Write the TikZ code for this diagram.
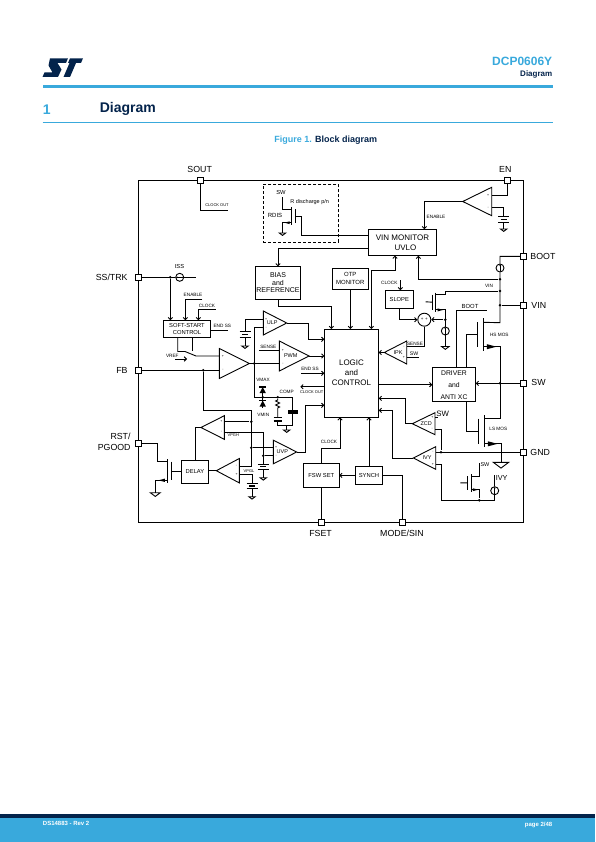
\documentclass[tikz,border=0pt]{standalone}
\usepackage{fontspec}
\setmainfont{Liberation Sans}
\usetikzlibrary{arrows.meta}

\definecolor{stblue}{HTML}{39A9DC}
\definecolor{stnavy}{HTML}{03234B}

\tikzset{
  pin/.style={draw,fill=white,minimum size=6pt,inner sep=0pt,outer sep=0pt},
  block/.style={draw,inner sep=0pt,outer sep=0pt,align=center},
  joint/.style={circle,fill,inner sep=0pt,minimum size=2.8pt},
  pinlabel/.style={font=\fontsize{8.8}{10.5}\selectfont,inner sep=0pt,align=right},
  tag/.style={font=\fontsize{4.7}{5.5}\selectfont,inner sep=0pt},
  amptext/.style={font=\fontsize{5.5}{6}\selectfont,inner sep=0pt},
  ampsign/.style={font=\fontsize{3.5}{4}\selectfont,inner sep=0pt},
  srcv/.style={circle,draw,inner sep=0pt,minimum size=8pt,path picture={
    \draw[line width=.5pt,-{Stealth[length=2pt]}] (path picture bounding box.south) -- (path picture bounding box.north);}},
  srch/.style={circle,draw,inner sep=0pt,minimum size=8pt,path picture={
    \draw[line width=.5pt,-{Stealth[length=2pt]}] (path picture bounding box.east) -- (path picture bounding box.west);}},
}

% name, tip x, tip y, base x, half height, text, y of +, y of -
\newcommand{\opamp}[8]{%
  \coordinate (#1) at (#2,#3);
  \coordinate (#1p) at (#4,#7);
  \coordinate (#1n) at (#4,#8);
  \draw (#2,#3) -- (#4,#3-#5) -- (#4,#3+#5) -- cycle;
  \node[ampsign] (#1ps) at ({#4*.88+#2*.12},#7) {+};
  \node[ampsign] (#1ns) at ({#4*.88+#2*.12},#8) {-};
  \node[amptext] (#1t) at ({#4*.615+#2*.385},#3) {#6};
}
% name, channel x, top, bottom, signed gate gap, inset
\newcommand{\mos}[6]{%
  \coordinate (#1d) at (#2,#3+#6);
  \coordinate (#1s) at (#2,#4-#6);
  \coordinate (#1g) at (#2+#5,{(#3+#4)/2});
  \draw (#2,#3) -- (#2,#4);
  \draw (#2+#5,#3+#6) -- (#2+#5,#4-#6);
  \fill (#2-#5*.6,#4-#6-#5*.42) -- (#2-#5*.6,#4-#6+#5*.42) -- (#2-#5*2.2,#4-#6) -- cycle;
}
\newcommand{\gndsym}[3]{%
  \draw (#1-#3,#2) -- (#1+#3,#2) -- (#1,#2+#3*.75) -- cycle;
}
% name, x, y of the first plate, y of the ground
\newcommand{\batt}[4]{%
  \coordinate (#1) at (#2,#3);
  \draw (#2-5.5,#3) -- (#2+5.5,#3);
  \draw[line width=1.3pt] (#2-3,#3+2.7) -- (#2+3,#3+2.7);
  \draw (#2-5.5,#3+5.4) -- (#2+5.5,#3+5.4);
  \draw (#2,#3+5.4) -- (#2,#4);
  \gndsym{#2}{#4}{3.2}
}
\newcommand{\zener}[2]{%
  \fill (#1-3.2,#2+3.2) -- (#1+3.2,#2+3.2) -- (#1,#2-3) -- cycle;
  \draw[line width=1.2pt] (#1-3.4,#2-3) -- (#1+3.4,#2-3);
}

\begin{document}
\begin{tikzpicture}[x=1pt,y=-1pt,line width=.9pt,>={Straight Barb[length=2.2pt,width=4.4pt]}]
  \useasboundingbox (0,0) rectangle (595,842);

  % page furniture
  \fill[stnavy] (50,58.3) -- (68,58.3) -- (66,63) -- (57.5,63) -- (61.5,69.5) -- (58,77) -- (42.5,77) -- (44.5,72.5) -- (52.5,72.5) -- (48.5,65.5) -- cycle;
  \fill[stnavy] (70,58.3) -- (83,58.3) -- (81,63) -- (76,63) -- (70,77) -- (63.5,77) -- (69.5,63) -- (68,63) -- cycle;
  \node[anchor=east,inner sep=0pt,text=stblue,font=\bfseries\fontsize{12}{14}\selectfont] (partno) at (552.7,61.7) {DCP0606Y};
  \node[anchor=east,inner sep=0pt,text=stnavy,font=\bfseries\fontsize{8}{10}\selectfont] (headsec) at (552.7,74) {Diagram};
  \fill[stblue] (42.5,85.3) rectangle (552.7,88.2);
  \node[anchor=west,inner sep=0pt,text=stblue,font=\bfseries\fontsize{14}{16}\selectfont] (secno) at (42.5,109.3) {1};
  \node[anchor=west,inner sep=0pt,text=stnavy,font=\bfseries\fontsize{14}{16}\selectfont] (secname) at (99.4,109.3) {Diagram};
  \draw[stblue,line width=.8pt] (42.5,122.3) -- (552.7,122.3);
  \node[inner sep=0pt,font=\bfseries\fontsize{9}{11}\selectfont] (figcap) at (325.7,140) {\textcolor{stblue}{Figure 1.} \textcolor{stnavy}{Block diagram}};
  \fill[stnavy] (0,814) rectangle (595,818);
  \fill[stblue] (0,818) rectangle (595,842);
  \node[anchor=west,inner sep=0pt,text=white,font=\bfseries\fontsize{6}{7}\selectfont] (docno) at (42.5,823.7) {DS14883 - Rev 2};
  \node[anchor=east,inner sep=0pt,text=white,font=\bfseries\fontsize{6}{7}\selectfont] (pageno) at (552.7,824.7) {page 2/48};

  % frame and pins
  \node[draw,minimum width=385pt,minimum height=342pt,inner sep=0pt,outer sep=0pt] (frame) at (330.8,351.3) {};
  \node[pin] (sout) at (200.3,180.3) {};
  \node[pin] (en) at (507.7,180.3) {};
  \node[pin] (boot) at (523.3,256.3) {};
  \node[pin] (vin) at (523.3,305.3) {};
  \node[pin] (sw) at (523.3,383.3) {};
  \node[pin] (gnd) at (523.3,452.3) {};
  \node[pin] (fset) at (321.3,522.3) {};
  \node[pin] (mode) at (402.3,522.3) {};
  \node[pin] (sstrk) at (138.3,277.3) {};
  \node[pin] (fb) at (138.3,370.3) {};
  \node[pin] (rst) at (138.3,443.3) {};
  \node[pinlabel] (soutl) at (199.7,169.7) {SOUT};
  \node[pinlabel] (enl) at (505.3,169.7) {EN};
  \node[pinlabel,anchor=west] (bootl) at (530,256) {BOOT};
  \node[pinlabel,anchor=west] (vinl) at (531,305) {VIN};
  \node[pinlabel,anchor=west] (swl) at (531,382) {SW};
  \node[pinlabel,anchor=west] (gndl) at (530,452) {GND};
  \node[pinlabel] (fsetl) at (320.5,533.3) {FSET};
  \node[pinlabel] (model) at (402,533.3) {MODE/SIN};
  \node[pinlabel,anchor=east] (sstrkl) at (128,277) {SS/TRK};
  \node[pinlabel,anchor=east] (fbl) at (128,370) {FB};
  \node[pinlabel,anchor=east] (rstl) at (131,442) {RST/\\PGOOD};

  % blocks
  \node[draw,dash pattern=on 3pt off 2pt,minimum width=75pt,minimum height=58pt,inner sep=0pt] (rdisbox) at (300.8,213.3) {};
  \node[block,minimum width=45.4pt,minimum height=33pt,font=\fontsize{7}{7.6}\selectfont] (bias) at (278,282.8) {BIAS\\and\\REFERENCE};
  \node[block,minimum width=68.4pt,minimum height=26.4pt,font=\fontsize{8}{10}\selectfont] (uvlo) at (402.5,242.5) {VIN MONITOR\\\hspace*{6pt}UVLO};
  \node[block,minimum width=36pt,minimum height=21.3pt,font=\fontsize{6}{8}\selectfont] (otp) at (350.3,278.7) {OTP\\MONITOR};
  \node[block,minimum width=28pt,minimum height=18pt,font=\fontsize{5.8}{7}\selectfont] (slope) at (399.3,299.3) {SLOPE};
  \node[block,minimum width=47.4pt,minimum height=17pt,font=\fontsize{5.8}{7.2}\selectfont] (softst) at (187,328.8) {SOFT-START\\CONTROL};
  \node[block,minimum width=54.4pt,minimum height=88.3pt,font=\fontsize{8}{10}\selectfont] (logic) at (351.5,373.2) {LOGIC\\and\\CONTROL};
  \node[block,minimum width=43.4pt,minimum height=34pt,font=\fontsize{6.8}{12}\selectfont] (driver) at (454,384.7) {DRIVER\\and\\ANTI XC};
  \node[block,minimum width=27.4pt,minimum height=23.4pt,font=\fontsize{5.8}{7}\selectfont] (delay) at (195,472) {DELAY};
  \node[block,minimum width=36pt,minimum height=24pt,font=\fontsize{5.8}{7}\selectfont] (fsw) at (321.3,475.4) {FSW SET};
  \node[block,minimum width=27.4pt,minimum height=17.6pt,font=\fontsize{5.8}{7}\selectfont] (synch) at (369,475.4) {SYNCH};

  % amplifiers
  \opamp{encmp}{462.7}{201.5}{491.7}{14.2}{}{195}{207.7}
  \opamp{ulp}{286.7}{323}{263.3}{12}{ULP}{319.3}{327.7}
  \opamp{pwm}{309}{356}{279.3}{15}{PWM}{350}{363.5}
  \opamp{ea}{249.3}{363.5}{219.3}{15}{}{356}{370.3}
  \opamp{pgh}{201}{427.5}{224.3}{11.8}{}{421.7}{432.3}
  \opamp{pgl}{216.3}{470.7}{239.3}{12.2}{}{474.3}{466}
  \opamp{uvp}{296.7}{452}{273.3}{11.8}{UVP}{447.7}{455.7}
  \opamp{ipk}{384.3}{352.5}{406.7}{11.5}{IPK}{357.3}{346.7}
  \opamp{zcd}{412.3}{423.7}{435}{11}{ZCD}{417.7}{429.3}
  \opamp{ivy}{413.3}{458}{435.7}{11.3}{IVY}{464}{452.3}

  % power switches
  \mos{rdis}{291.7}{207.3}{224.7}{3.3}{2}
  \mos{sns}{435.7}{292.7}{311.7}{-3.4}{1.8}
  \mos{hs}{483.3}{318.3}{350.7}{-6}{4}
  \mos{ls}{484.3}{415}{447.3}{-6}{3.5}
  \mos{bm}{471}{474}{491.7}{-3.3}{2}
  \mos{dm}{167.3}{459.3}{482.7}{4}{2.4}

  % upper left
  \coordinate (ckoend) at (228,210.3);
  \draw (sout.south) |- (ckoend);
  \coordinate (rdissw) at (282.5,197.3);
  \coordinate (rdisgnd) at (282.5,233);
  \draw (rdissw) |- (rdisd);
  \draw (rdiss) -| (rdisgnd);
  \gndsym{282.5}{233}{3.2}
  \coordinate (rdisk) at (301.7,235.3);
  \coordinate (uvloa) at (368.3,235.3);
  \draw (rdisg) -| (rdisk) -- (uvloa);
  \coordinate (uvlob) at (368.3,248.3);
  \draw[->] (uvlob) -| (bias.north);
  \coordinate (biask) at (278,306);
  \coordinate (logica) at (331.3,329);
  \draw[->] (bias.south) -- (biask) -| (logica);
  \draw[->] (otp.south) -- (otp.south |- logic.north);
  \coordinate (logicb) at (371.3,329);
  \coordinate (uvlok) at (371.3,270.7);
  \coordinate (uvloc) at (395,255.7);
  \draw[<->] (logicb) -- (uvlok) -| (uvloc);

  % enable
  \coordinate (uvlod) at (424.3,229.3);
  \draw[->] (encmp) -| (uvlod);
  \draw (en.south) |- (encmpp);
  \batt{enb}{503.7}{216.7}{229}
  \draw (encmpn) -| (enb);

  % supply rail
  \coordinate (railtop) at (500,256.3);
  \coordinate (railbot) at (500,322.7);
  \node[srcv] (bootsrc) at (500,268) {};
  \node[joint] (jrail) at (500,279.3) {};
  \node[joint] (jsns) at (500,291) {};
  \node[joint] (jvin) at (500,305.3) {};
  \draw (boot.west) -- (railtop) -- (bootsrc) -- (railbot) -- (hsd);
  \draw (vin.west) -- (jvin);
  \coordinate (uvloe) at (418.3,255.7);
  \draw[->] (jrail) -| (uvloe);

  % slope and sense
  \coordinate (slopein) at (400.3,280);
  \draw[->] (slopein) -- (slopein |- slope.north);
  \node[circle,draw,inner sep=0pt,minimum size=13pt,font=\fontsize{4.5}{5}\selectfont] (sum) at (424.3,319.7) {+\,\,+};
  \draw[->] (slope.south) |- (sum.west);
  \coordinate (snsgate) at (425.7,301.8);
  \draw (snsg) -- (snsgate);
  \coordinate (snsk) at (445.3,291);
  \draw (snsd) -| (snsk) -- (jsns);
  \node[srcv] (snssrc) at (445.3,331) {};
  \node[joint] (jsum) at (445.3,319.7) {};
  \draw (snss) -| (snssrc);
  \draw[->] (jsum) -- (sum.east);
  \coordinate (snsgnd) at (445.3,346.5);
  \draw (snssrc) -- (snsgnd);
  \gndsym{445.3}{346.5}{3.8}
  \coordinate (ipkswend) at (419,357.3);
  \draw (sum.south) |- (ipkn);
  \draw (ipkp) -- (ipkswend);
  \draw[->] (ipk) -- (logic.east |- ipk);

  % driver and power stage
  \coordinate (bootb) at (456.5,310);
  \coordinate (boote) at (486.7,310);
  \draw (boote) -- (bootb) -- (bootb |- driver.north);
  \coordinate (hsgk) at (466.3,367.7);
  \draw (hsg) -| (hsgk);
  \coordinate (lsgk) at (466.3,401.7);
  \draw (lsg) -| (lsgk);
  \coordinate (lsdk) at (500,418.5);
  \draw (hss) -| (lsdk) -- (lsd);
  \node[joint] (jsw) at (500,383.3) {};
  \draw[->] (sw.west) -- (driver.east |- sw);
  \coordinate (lsgnd) at (501,462.3);
  \draw (lss) -| (lsgnd);
  \gndsym{501}{462.3}{7.7}
  \coordinate (logicout) at (378.7,384.7);
  \draw[->] (logicout) -- (driver.west |- logicout);

  % zero crossing and valley
  \coordinate (logicz) at (378.7,398.3);
  \coordinate (zcdk) at (405.7,398.3);
  \draw[->] (zcd) -| (zcdk) -- (logicz);
  \node[joint] (jgnd) at (441,452.3) {};
  \draw (zcdn) -| (jgnd);
  \coordinate (zcdsw) at (437.5,417.7);
  \draw (zcdp) -- (zcdsw);
  \coordinate (logicv) at (378.7,410.3);
  \coordinate (ivyk) at (392.3,410.3);
  \draw[->] (ivy) -| (ivyk) -- (logicv);
  \draw (ivyn) -- (gnd.west);
  \node[joint] (jbm) at (479.3,500.3) {};
  \node[srcv] (ivysrc) at (494.7,490.7) {};
  \coordinate (ivyk2) at (441.7,500.3);
  \coordinate (ivyb) at (494.7,500.3);
  \coordinate (ivytop) at (494.7,475);
  \draw (ivyp) -| (ivyk2) -- (ivyb) -- (ivysrc) -- (ivytop);
  \coordinate (bmgate) at (460.3,482.8);
  \draw (bmg) -- (bmgate);
  \coordinate (bmsw) at (479.3,463);
  \draw (bmd) -| (bmsw);
  \draw (bms) -| (jbm);

  % bottom blocks
  \draw[->] (synch.west) -- (fsw.east);
  \draw[->] (synch.north) -- (synch.north |- logic.south);
  \draw (synch.east) -| (mode.north);
  \draw (fsw.south) -- (fset.north);
  \coordinate (fswk) at (340,448.3);
  \coordinate (logicc) at (340,417.3);
  \draw[->] (fsw.north) |- (fswk) -- (logicc);

  % logic inputs
  \coordinate (ulpk) at (308.3,339.3);
  \coordinate (logicu) at (324.3,339.3);
  \draw[->] (ulp) -| (ulpk) -- (logicu);
  \draw[->] (pwm) -- (logic.west |- pwm);
  \coordinate (endsb) at (301,373.3);
  \draw[->] (endsb) -- (logic.west |- endsb);
  \coordinate (ckoutb) at (300.3,386.7);
  \draw[<-] (ckoutb) -- (logic.west |- ckoutb);
  \coordinate (uvpk) at (305.3,405.3);
  \coordinate (logicp) at (324.3,405.3);
  \draw[->] (uvp) -| (uvpk) -- (logicp);
  \coordinate (sensb) at (259,350);
  \draw (sensb) -- (pwmp);

  % error amplifier and compensation
  \node[joint] (jea) at (254.3,363.5) {};
  \draw (ea) -- (pwmn);
  \coordinate (compl) at (254.3,397.3);
  \coordinate (compr) at (292.7,397.3);
  \draw (ulpn) -| (compl) -- (compr);
  \batt{ulpb}{245}{331.7}{346}
  \draw (ulpp) -| (ulpb);
  \node[joint] (jz) at (262.7,397.3) {};
  \coordinate (zt) at (262.7,386);
  \coordinate (zb) at (262.7,408);
  \draw (zt) -- (zb);
  \zener{262.7}{390}
  \zener{262.7}{403.5}
  \node[joint] (jr) at (277.7,397.3) {};
  \draw (jr) -- (277.7,400) -- (275.7,401) -- (279.7,403) -- (275.7,405) -- (279.7,407) -- (277.7,408) -- (277.7,417.7);
  \draw[line width=1.1pt] (273.5,417.7) -- (282,417.7) (273.5,421) -- (282,421);
  \coordinate (compb) at (277.7,425);
  \coordinate (compc) at (292.7,425);
  \draw (277.7,421) -- (compb) -- (compc) -- (292.7,414);
  \draw (compr) -- (292.7,410);
  \fill (288.3,410) rectangle (297.7,414.2);
  \coordinate (compg) at (286.7,430);
  \draw (286.7,425) -- (compg);
  \gndsym{286.7}{430}{3.2}

  % feedback and power good
  \node[joint] (jfb) at (203.3,370.3) {};
  \draw (fb.east) -- (ean);
  \coordinate (fbk) at (203.3,410.3);
  \coordinate (fbr) at (251.3,410.3);
  \coordinate (fbs) at (251.3,466);
  \draw (jfb) -- (fbk) -- (fbr) -- (fbs) -- (pgln);
  \node[joint] (jpgh) at (251.3,421.7) {};
  \node[joint] (juvp) at (251.3,447.7) {};
  \draw (pghp) -- (jpgh);
  \draw (juvp) -- (uvpp);
  \batt{uvb}{263.3}{464}{477.7}
  \coordinate (pghk) at (263.3,432.3);
  \draw (pghn) -- (pghk) -- (uvb);
  \node[joint] (juvb) at (263.3,455.7) {};
  \draw (juvb) -- (uvpn);
  \draw (pgh) -| (delay.north);
  \draw (pgl) -- (delay.east |- pgl);
  \batt{pgb}{252}{483.3}{496.7}
  \draw (pglp) -| (pgb);
  \draw (dmg) -- (delay.west |- dmg);
  \coordinate (dmk) at (157.7,443.3);
  \draw (dmd) -| (dmk) -- (rst.east);
  \coordinate (dmgnd) at (155.3,492.7);
  \draw (dms) -| (dmgnd);
  \gndsym{155.3}{492.7}{5}

  % soft start
  \node[srch] (iss) at (179.7,277.3) {};
  \coordinate (issend) at (195.7,277.3);
  \draw (sstrk.east) -- (iss) -- (issend);
  \node[joint] (jss) at (170.3,277.3) {};
  \draw[->] (jss) -- (jss |- softst.north);
  \coordinate (enab) at (202.3,299.3);
  \coordinate (ssenab) at (185.3,320.3);
  \draw[->] (enab) -| (ssenab);
  \coordinate (ckl) at (215.7,309.3);
  \coordinate (ssck) at (198.3,320.3);
  \draw[->] (ckl) -| (ssck);
  \coordinate (ssend) at (228.3,330.7);
  \draw (softst.east |- ssend) -- (ssend);
  \coordinate (swa) at (177.7,351.5);
  \coordinate (swb) at (185,351.5);
  \coordinate (swc) at (192.7,350.7);
  \coordinate (swd) at (196,356);
  \draw (swa |- softst.south) -- (swa) -- (swb) -- (swd) -- (eap);
  \draw (swc |- softst.south) -- (swc);
  \coordinate (vrefa) at (175,359);
  \coordinate (vrefb) at (187,359);
  \draw[->] (vrefa) -- (vrefb);

  % small labels
  \node[tag,font=\fontsize{4}{5}\selectfont] (lcko) at (217,205.3) {CLOCK OUT};
  \node[tag,font=\fontsize{5.8}{7}\selectfont] (lrsw) at (281,192.3) {SW};
  \node[tag,font=\fontsize{5.5}{7}\selectfont] (lrdn) at (309.7,201.7) {R discharge p/n};
  \node[tag,font=\fontsize{6}{7}\selectfont] (lrdis) at (275,215.7) {RDIS};
  \node[tag] (lena) at (436,217) {ENABLE};
  \node[tag] (lclks) at (389.3,283) {CLOCK};
  \node[tag] (lvin) at (489,286) {VIN};
  \node[tag,font=\fontsize{5.9}{7}\selectfont] (lboot) at (470,306.7) {BOOT};
  \node[tag] (lhs) at (499.3,335) {HS MOS};
  \node[tag] (lls) at (498.3,429) {LS MOS};
  \node[tag] (lsns) at (415,343.5) {SENSE};
  \node[tag,font=\fontsize{5.2}{6}\selectfont] (lipsw) at (414,353.7) {SW};
  \node[tag,font=\fontsize{5.8}{7}\selectfont] (liss) at (179.5,266.7) {ISS};
  \node[tag] (lenb) at (193,295) {ENABLE};
  \node[tag] (lclk) at (207,306) {CLOCK};
  \node[tag] (lesa) at (222.3,326) {END SS};
  \node[tag] (lsen) at (268.3,347) {SENSE};
  \node[tag] (lesb) at (310,369) {END SS};
  \node[tag,font=\fontsize{4}{5}\selectfont] (lcko2) at (311.7,391.7) {CLOCK OUT};
  \node[tag] (lvmax) at (263,380) {VMAX};
  \node[tag] (lcomp) at (286.7,392) {COMP};
  \node[tag] (lvmin) at (263.3,415.3) {VMIN};
  \node[tag] (lvref) at (172.3,356) {VREF};
  \node[tag,font=\fontsize{4}{5}\selectfont] (lvpgh) at (233.3,435.3) {VPGH};
  \node[tag,font=\fontsize{4}{5}\selectfont] (lvpgl) at (249,471.3) {VPGL};
  \node[tag,font=\fontsize{7.8}{9}\selectfont] (lzsw) at (442.7,414) {SW};
  \node[tag,font=\fontsize{5.5}{7}\selectfont] (lbsw) at (485,464.7) {SW};
  \node[tag,font=\fontsize{7.3}{9}\selectfont] (livy) at (501.7,478.3) {IVY};
  \node[tag] (lclkb) at (329,442) {CLOCK};
\end{tikzpicture}
\end{document}
